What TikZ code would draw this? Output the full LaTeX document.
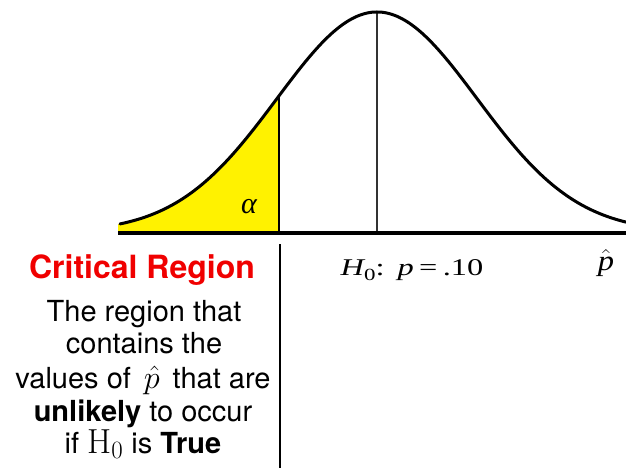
\documentclass[tikz,border=0pt]{standalone}
\usepackage{fontspec}
\newfontfamily\arialf{TeX Gyre Heros}
\newfontfamily\tmsf{Liberation Serif}
\begin{document}
\begin{tikzpicture}[x=1pt,y=-1pt,
  body/.style={font=\arialf\fontsize{29}{33}\selectfont, anchor=base, inner sep=0pt},
  ttl/.style={font=\arialf\bfseries\fontsize{32}{36}\selectfont, text={rgb,255:red,240;green,0;blue,0}, anchor=base, inner sep=0pt},
  serif/.style={font=\tmsf\fontsize{24}{28}\selectfont, anchor=base, inner sep=0pt},
  curve/.style={line width=3pt, line cap=round},
  axis/.style={line width=4pt},
  divider/.style={line width=2pt},
  midline/.style={line width=1.8pt, black!80}]
\useasboundingbox (0,0) rectangle (626,468);
% shaded tail
\fill[yellow] (118,232) -- plot[domain=118:279, samples=80] (\x, {232-220*exp(-((\x-377)/100)^2/2)}) -- (279,232) -- cycle;
% lines
\coordinate (cpeak) at (377,12);
\coordinate (cbase) at (377,232);
\coordinate (dtop) at (279,96);
\coordinate (dbase) at (279,232);
\coordinate (dlow) at (280,244);
\coordinate (dbot) at (280,468);
\coordinate (axl) at (118,233);
\coordinate (axr) at (628,233);
\draw[midline] (cpeak) -- (cbase);
\draw[divider] (dtop) -- (dbase);
\draw[divider] (dlow) -- (dbot);
\draw[curve] plot[domain=120:626, samples=200] (\x, {232-220*exp(-((\x-377)/100)^2/2)});
\draw[axis] (axl) -- (axr);
% labels
\node[serif, font=\tmsf\itshape\fontsize{30}{32}\selectfont] (alpha) at (249,213) {α};
\node[serif] (hyp) at (412,275) {\scalebox{1.35}[1]{\itshape H\raisebox{-0.22em}{\fontsize{17}{20}\selectfont\upshape 0}\upshape:\hspace{0.4em}\itshape p\upshape\,=\,.10}};
\node[serif] (phat) at (606,270) {\scalebox{1.25}[1.1]{$\hat{\hbox{\tmsf\itshape\fontsize{26}{30}\selectfont p}}$}};
% text block
\node[ttl] (title) at (142,278) {Critical Region};
\node[body] (l1) at (144,321) {The region that};
\node[body] (l2) at (144,353) {contains the};
\node[body] (l3) at (143,388) {values of \,\scalebox{1.3}{$\hat{p}$}\, that are};
\node[body] (l4) at (143,421) {\textbf{unlikely} to occur};
\node[body] (l5) at (143,453) {if \scalebox{1.2}{$\mathrm{H}_0$} is \textbf{True}};
\end{tikzpicture}
\end{document}
